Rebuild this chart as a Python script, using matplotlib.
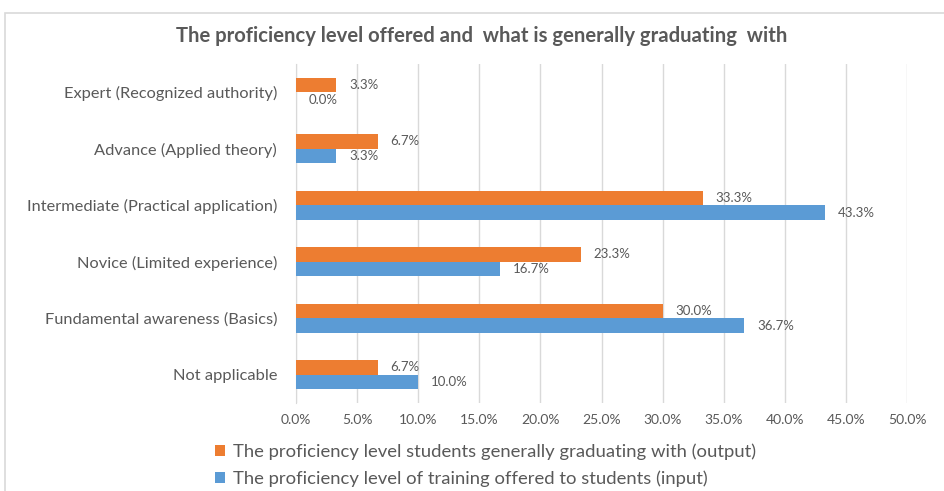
import matplotlib.pyplot as plt
from matplotlib.patches import Rectangle
import numpy as np

categories = [
    'Expert (Recognized authority)',
    'Advance (Applied theory)',
    'Intermediate (Practical application)',
    'Novice (Limited experience)',
    'Fundamental awareness (Basics)',
    'Not applicable',
]
output_pct = [3.3, 6.7, 33.3, 23.3, 30.0, 6.7]
input_pct = [0.0, 3.3, 43.3, 16.7, 36.7, 10.0]
output_label = 'The proficiency level students generally graduating with (output)'
input_label = 'The proficiency level of training offered to students (input)'
title = 'The proficiency level offered and  what is generally graduating  with'

ORANGE = '#ED7D31'
BLUE = '#5B9BD5'
TEXT = '#595959'

plt.rcParams['font.family'] = ['Lato', 'DejaVu Sans']

W, H = 945, 491
fig = plt.figure(figsize=(W / 100, H / 100), dpi=100)
ax = fig.add_axes([296 / W, 1 - 403 / H, (907 - 296) / W, (403 - 64) / H])

# chart frame
fig.patches.append(Rectangle((5 / W, -0.1), 1.1, 1 - 13 / H + 0.1,
                             transform=fig.transFigure, fill=False,
                             edgecolor='#d9d9d9', linewidth=1.2))

y = np.arange(len(categories))
h = 0.26
ax.barh(y - h / 2, output_pct, height=h, color=ORANGE, label=output_label, zorder=3)
ax.barh(y + h / 2, input_pct, height=h, color=BLUE, label=input_label, zorder=3)

for yi, v in zip(y, output_pct):
    ax.text(v + 1.05, yi - h / 2, f'{v:.1f}%', va='center', ha='left',
            fontsize=9.5, color=TEXT)
for yi, v in zip(y, input_pct):
    ax.text(v + 1.05, yi + h / 2, f'{v:.1f}%', va='center', ha='left',
            fontsize=9.5, color=TEXT)

ax.set_ylim(len(categories) - 0.5, -0.5)
ax.set_xlim(0, 50)
ax.set_xticks(np.arange(0, 51, 5))
ax.set_xticklabels([f'{t:.1f}%' for t in np.arange(0, 51, 5)])
ax.set_yticks(y)
ax.set_yticklabels(categories)
ax.tick_params(axis='both', length=0, colors=TEXT)
ax.tick_params(axis='x', pad=8, labelsize=10)
ax.tick_params(axis='y', pad=13.5, labelsize=11.8)
ax.grid(axis='x', color='#d9d9d9', linewidth=1, zorder=0)
for s in ['top', 'right', 'bottom']:
    ax.spines[s].set_visible(False)
ax.spines['left'].set_color('#d9d9d9')

fig.text(482 / W, 1 - 36 / H, title, ha='center', va='center',
         fontsize=14.6, fontweight='bold', color=TEXT)

handles, labels = ax.get_legend_handles_labels()
fig.legend(handles, labels, loc='upper left', bbox_to_anchor=(198 / W, 1 - 427 / H),
           frameon=False, fontsize=13.3, labelcolor=TEXT, handlelength=0.55,
           handleheight=0.55, handletextpad=0.45, labelspacing=0.55)

fig.savefig('out.png', dpi=100)
